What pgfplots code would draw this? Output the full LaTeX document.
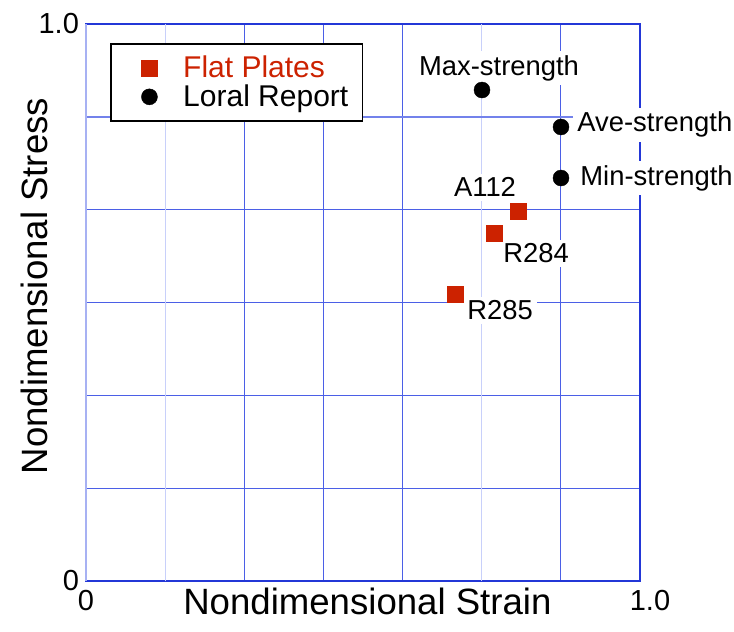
\documentclass[border=0pt]{standalone}
\usepackage{pgfplots}
\pgfplotsset{compat=1.18}
\usepackage{fontspec}
\setmainfont{Liberation Sans}

\definecolor{plate}{RGB}{204,34,0}
\definecolor{frameblue}{RGB}{35,55,215}
\definecolor{gridblue}{RGB}{75,95,230}
\definecolor{paleblue}{RGB}{200,208,250}
\definecolor{midblue}{RGB}{115,130,235}

% Nondimensional strain / stress of each specimen
\pgfplotstableread{
x       y
0.7798  0.6643
0.7365  0.6248
0.6661  0.5153
}\flatplates
\pgfplotstableread{
x       y
0.7148  0.8815
0.8574  0.8151
0.8574  0.7235
}\loral

\begin{document}
\begin{tikzpicture}
\begin{axis}[
  scale only axis,
  width=277pt, height=278.5pt,
  clip=false,
  xmin=0, xmax=1, ymin=0, ymax=1,
  xtick={0,1}, xticklabels={0,\hspace*{10pt}1.0},
  ytick={0,1}, yticklabels={0,1.0},
  minor xtick={2/7,3/7,4/7,6/7},
  minor ytick={1/6,2/6,3/6,4/6},
  extra x ticks={1/7,5/7}, extra x tick labels={},
  extra y ticks={5/6}, extra y tick labels={},
  extra x tick style={grid=major, major grid style={paleblue, line width=0.6pt}},
  extra y tick style={grid=major, major grid style={midblue, line width=1pt}},
  grid=both,
  major grid style={gridblue, line width=0.45pt},
  minor grid style={gridblue, line width=0.45pt},
  major tick length=0pt, minor tick length=0pt,
  axis line style={frameblue, line width=0.7pt},
  /pgf/number format/assume math mode=true,
  ticklabel style={font=\fontsize{14.5}{16}\selectfont, black},
  xticklabel style={yshift=-1pt},
  xlabel={Nondimensional Strain},
  ylabel={Nondimensional Stress},
  label style={font=\fontsize{18.3}{20}\selectfont},
  xlabel style={at={(axis description cs:0.508,-0.061)}, anchor=base, inner sep=0pt},
  ylabel style={at={(axis description cs:-0.0686,0.5296)}, anchor=south, inner sep=0pt},
  legend style={at={(rel axis cs:0.0433,0.966)}, anchor=north west,
    draw=black, line width=0.8pt, fill=white,
    font=\fontsize{15}{17}\selectfont, inner xsep=5pt, inner ysep=4pt,
    row sep=-2pt},
  legend image code/.code={%
    \path (0cm,0cm) (1.02cm,0cm);
    \draw[#1] plot coordinates {(0.5cm,0cm)};},
  legend cell align=left,
]
\draw[paleblue!80!frameblue, line width=1.2pt] (rel axis cs:0,0) -- (rel axis cs:0,1);

\addplot[only marks, mark=square*, mark size=4pt, color=plate, line width=0.2pt]
  table[x=x, y=y] {\flatplates};
\addlegendentry{\textcolor{plate}{Flat Plates}}
\addplot[only marks, mark=*, mark size=4pt, color=black, line width=0.2pt]
  table[x=x, y=y] {\loral};
\addlegendentry{Loral Report}

\begin{scope}[every node/.style={font=\fontsize{13.7}{15}\selectfont, fill=white, inner sep=2pt}]
\node[anchor=base, xshift=8.5pt, yshift=7.5pt] at (axis cs:0.7148,0.8815) {Max-strength};
\node[anchor=base west, xshift=6pt, yshift=-2.5pt] at (axis cs:0.8574,0.8151) {Ave-strength};
\node[anchor=base west, xshift=7.5pt, yshift=-3.5pt] at (axis cs:0.8574,0.7235) {Min-strength};
\node[anchor=base, xshift=-16.5pt, yshift=7pt] at (axis cs:0.7798,0.6643) {A112};
\node[anchor=base west, xshift=2.5pt, yshift=-15pt] at (axis cs:0.7365,0.6248) {R284};
\node[anchor=base west, xshift=4pt, yshift=-13pt] at (axis cs:0.6661,0.5153) {R285};
\end{scope}

\coordinate (sw) at (rel axis cs:0,0);
\coordinate (ne) at (rel axis cs:1,1);
\end{axis}
\pgfresetboundingbox
\path ([xshift=-43pt, yshift=-25.5pt]sw) rectangle ([xshift=47pt, yshift=12pt]ne);
\end{tikzpicture}
\end{document}
